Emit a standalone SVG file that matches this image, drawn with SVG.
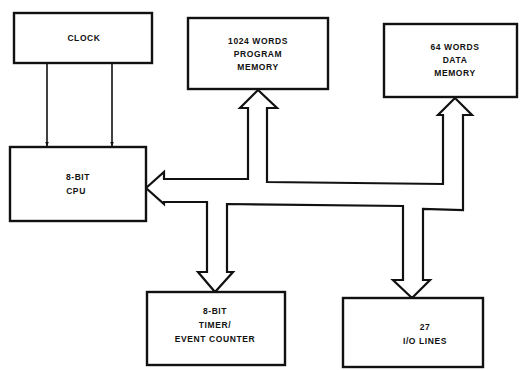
<svg xmlns="http://www.w3.org/2000/svg" width="524" height="370" viewBox="0 0 524 370">
<defs>
<style>
.box{fill:#fff;stroke:#111;stroke-width:2.4}
.bus{fill:#fff;stroke:#111;stroke-width:2.2;stroke-linejoin:miter}
.ln{stroke:#111;stroke-width:1.6;fill:none}
text{font-family:"Liberation Sans",Arial,sans-serif;font-weight:bold;font-size:8.5px;fill:#111;text-anchor:middle;letter-spacing:0.6px}
</style>
<marker id="ah" viewBox="0 0 10 10" refX="9" refY="5" markerWidth="5" markerHeight="5" orient="auto" markerUnits="userSpaceOnUse">
<path d="M0,1 L10,5 L0,9 z" fill="#111"/>
</marker>
</defs>
<rect width="524" height="370" fill="#fff"/>
<g id="connectors">
<line class="ln" x1="47" y1="63" x2="47" y2="146" marker-end="url(#ah)"/>
<line class="ln" x1="112" y1="63" x2="112" y2="146" marker-end="url(#ah)"/>
<path class="bus" d="M146,188 L164,172 L164,179 L248,179 L248,108 L240,108 L258,90 L277,108 L267,108 L267,182 L443,184 L443,115 L438,115 L455,98 L472,115 L463,115 L463,210 L423,209 L423,280 L430,280 L412,298 L393,280 L403,280 L403,206 L227,204 L227,272 L233,272 L215,292 L198,272 L207,272 L207,202 L164,202 L164,204 Z"/>
</g>
<g id="clock">
<rect class="box" x="14" y="13" width="138" height="50"/>
<text x="84" y="41">CLOCK</text>
</g>
<g id="program-memory">
<rect class="box" x="188" y="18" width="140" height="71"/>
<text x="258" y="44">1024 WORDS</text>
<text x="258" y="57">PROGRAM</text>
<text x="258" y="70">MEMORY</text>
</g>
<g id="data-memory">
<rect class="box" x="384" y="24" width="133" height="73"/>
<text x="455" y="50">64 WORDS</text>
<text x="455" y="63">DATA</text>
<text x="455" y="76">MEMORY</text>
</g>
<g id="cpu">
<rect class="box" x="10" y="147" width="136" height="74"/>
<text x="78" y="180">8-BIT</text>
<text x="76" y="194">CPU</text>
</g>
<g id="timer">
<rect class="box" x="147" y="292" width="138" height="73"/>
<text x="215" y="314">8-BIT</text>
<text x="215" y="328">TIMER/</text>
<text x="215" y="342">EVENT COUNTER</text>
</g>
<g id="io-lines">
<rect class="box" x="343" y="298" width="140" height="69"/>
<text x="425" y="330">27</text>
<text x="425" y="344">I/O LINES</text>
</g>
</svg>
